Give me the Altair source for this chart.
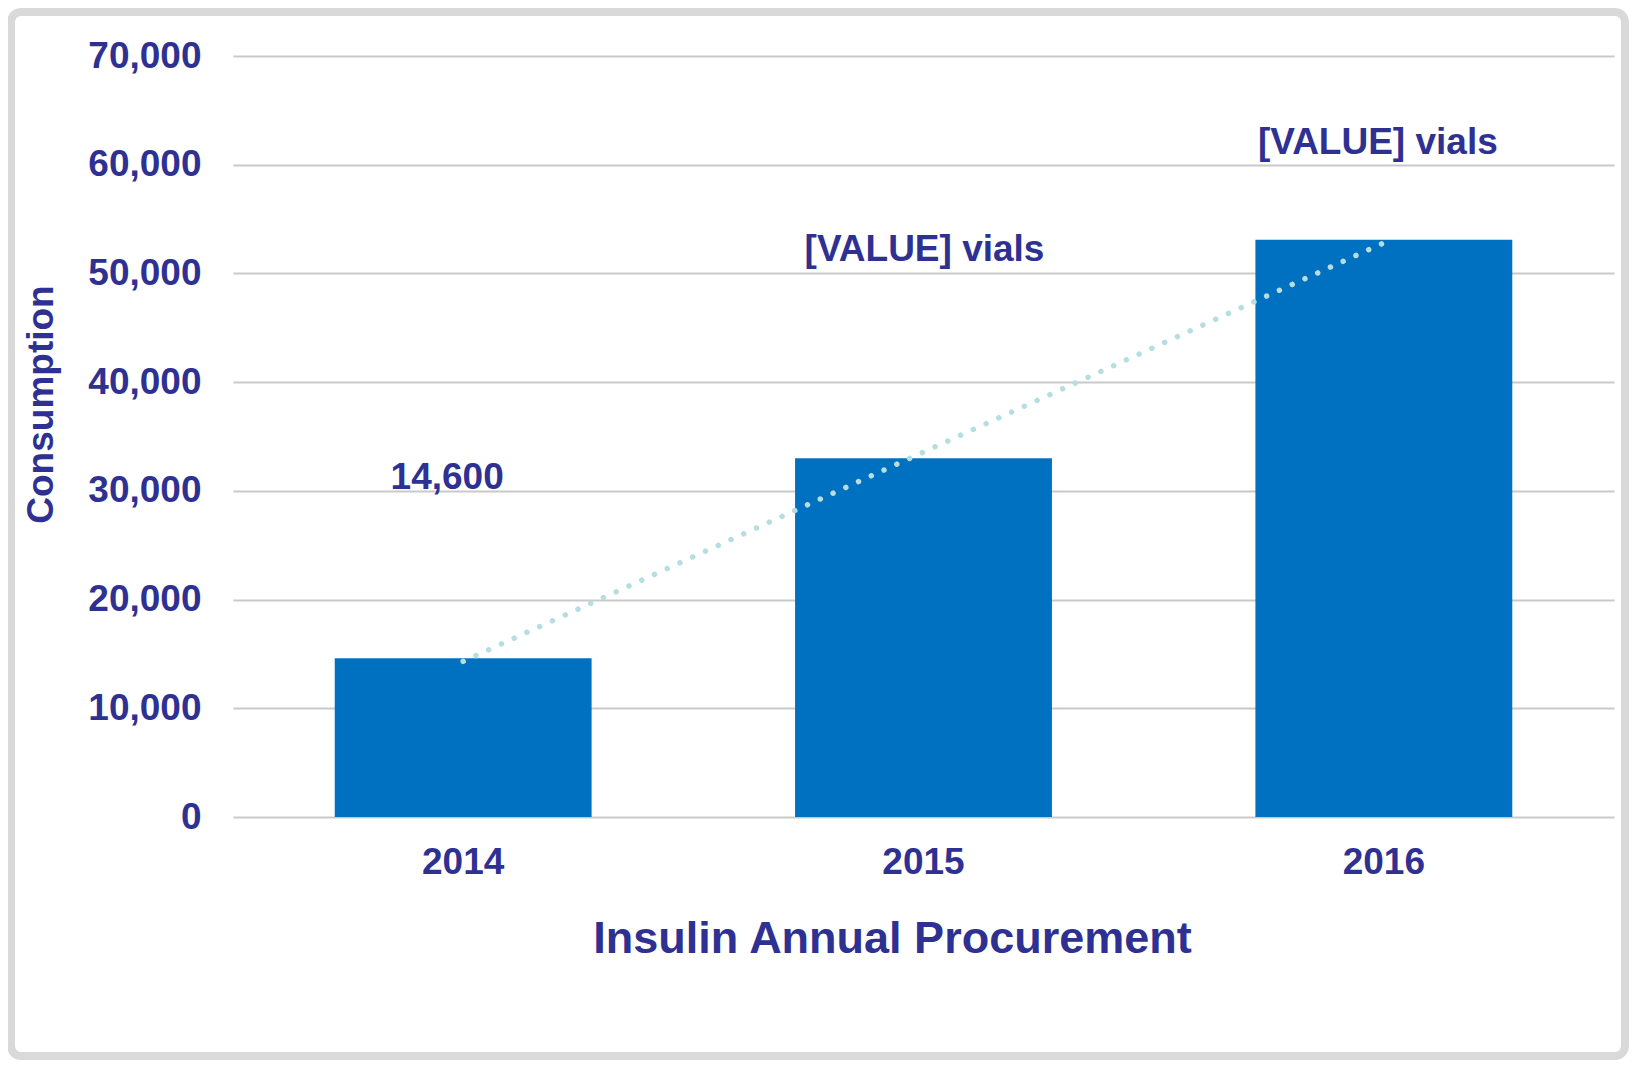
import altair as alt
import pandas as pd

# ---- data ----
years = [2014, 2015, 2016]
consumption = [14600, 33000, 53100]
bar_labels = ["14,600", "[VALUE] vials", "[VALUE] vials"]
y_ticks = [0, 10000, 20000, 30000, 40000, 50000, 60000, 70000]

df = pd.DataFrame({"year": years, "value": consumption, "label": bar_labels})

# ---- style ----
TEXT = "#2E3192"
BAR = "#0070C0"
TREND = "#B6DDE0"
GRID = "#C9C9C9"
FONT = "Liberation Sans"
W, H = 1381, 761
PAD = {"left": 225, "top": 48, "right": 15, "bottom": 243}
# label offsets (pixels) relative to the top of each bar
label_offsets = {2014: (-16, -169), 2015: (1, -197), 2016: (-6, -86)}

x_enc = alt.X(
    "year:O",
    scale=alt.Scale(paddingInner=0.442, paddingOuter=0.221),
    axis=alt.Axis(
        title="Insulin Annual Procurement",
        labelAngle=0,
        labelFontSize=37,
        labelFont=FONT,
        labelFontWeight="bold",
        labelColor=TEXT,
        labelBaseline="alphabetic",
        labelPadding=56,
        ticks=False,
        domain=False,
        grid=False,
        titleFontSize=45,
        titleFont=FONT,
        titleFontWeight="bold",
        titleColor=TEXT,
        titleX=659,
        titleY=135,
        titleBaseline="alphabetic",
        titleAlign="center",
    ),
)
y_enc = alt.Y(
    "value:Q",
    scale=alt.Scale(domain=[0, 70000], nice=False),
    axis=alt.Axis(
        title="Consumption",
        values=y_ticks,
        format=",d",
        labelFontSize=37,
        labelFont=FONT,
        labelFontWeight="bold",
        labelColor=TEXT,
        labelPadding=32,
        ticks=False,
        domain=False,
        grid=True,
        gridColor=GRID,
        gridWidth=2,
        titleFontSize=37,
        titleFont=FONT,
        titleFontWeight="bold",
        titleColor=TEXT,
        titleAngle=270,
        titleX=-181,
        titleY=348,
        titleBaseline="alphabetic",
        titleAlign="center",
    ),
)

base = alt.Chart(df)

bars = base.mark_bar(color=BAR).encode(x=x_enc, y=y_enc)

trend = (
    base.transform_regression("year", "value")
    .mark_line(color=TREND, strokeWidth=5.5, strokeCap="round", strokeDash=[0.01, 14])
    .encode(x="year:O", y="value:Q")
)

label_layers = []
for yr in years:
    dx, dy = label_offsets[yr]
    label_layers.append(
        base.transform_filter(alt.datum.year == yr)
        .mark_text(
            dx=dx,
            dy=dy,
            align="center",
            baseline="alphabetic",
            font=FONT,
            fontSize=37,
            fontWeight="bold",
            color=TEXT,
        )
        .encode(x="year:O", y="value:Q", text="label:N")
    )

frame = (
    alt.Chart(pd.DataFrame({"k": [0]}))
    .mark_rect(filled=False, stroke="#D9D9D9", strokeWidth=8, cornerRadius=10)
    .encode(
        x=alt.value(-PAD["left"] + 3),
        x2=alt.value(W + PAD["right"] - 4),
        y=alt.value(-PAD["top"] + 4),
        y2=alt.value(H + PAD["bottom"] - 4),
    )
)

chart = (
    alt.layer(frame, bars, trend, *label_layers)
    .properties(
        width=W,
        height=H,
        padding=PAD,
        autosize=alt.AutoSizeParams(type="none"),
        background="white",
    )
    .configure_view(strokeWidth=0)
)

chart.save("out.html", embed_options={"renderer": "svg", "actions": False})
